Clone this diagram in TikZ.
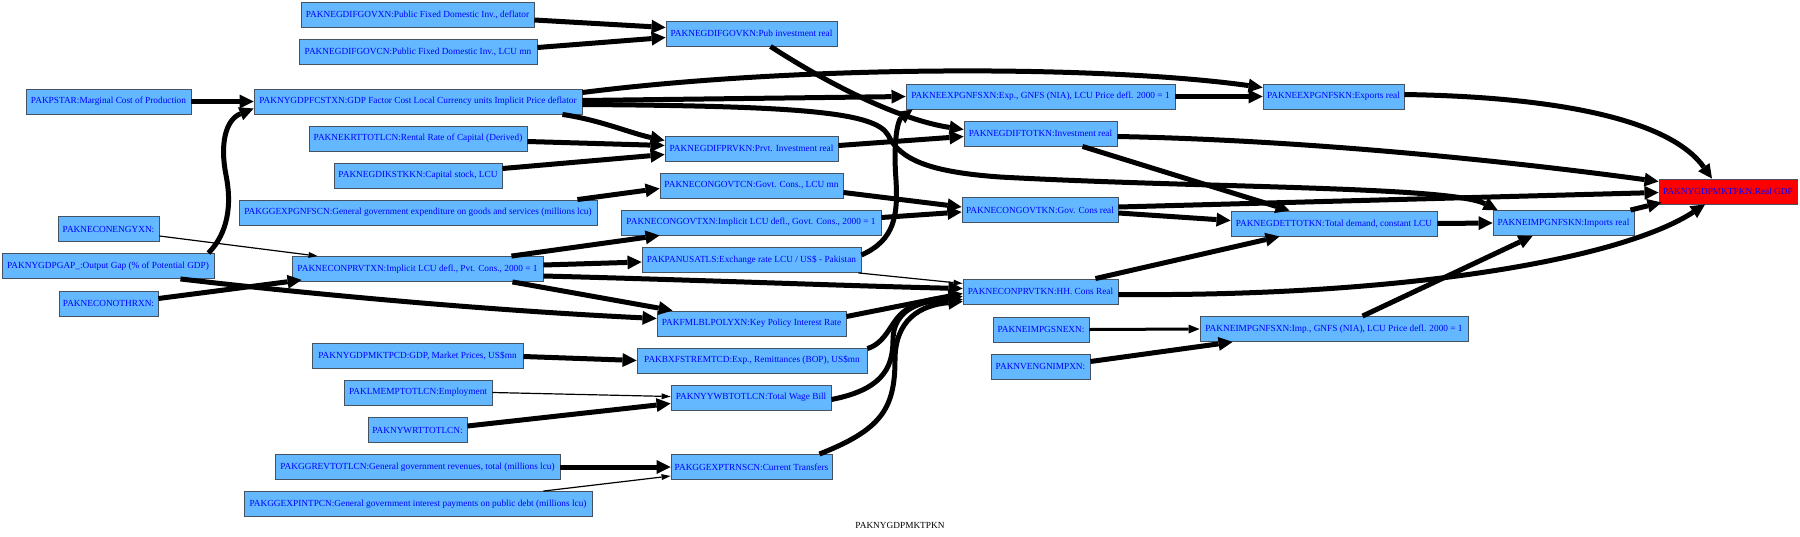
\documentclass[tikz,border=0pt]{standalone}
\usepackage{fontspec}
\setmainfont{Liberation Serif}
\usetikzlibrary{arrows.meta,calc}
\definecolor{boxfill}{RGB}{99,184,255}
\definecolor{boxline}{RGB}{70,82,96}
\definecolor{txtblue}{RGB}{0,0,255}
\begin{document}
\begin{tikzpicture}[x=1pt,y=-1pt,
  box/.style={draw=boxline,line width=0.9pt,fill=boxfill,text=txtblue,
    font=\fontsize{9.3}{11}\selectfont,minimum height=25pt,inner xsep=1pt,inner ysep=0pt},
  redbox/.style={box,fill=red},
  fat/.style={line width=5pt,-{Triangle[length=14pt,width=14pt,line width=0pt]}},
  thinedge/.style={line width=1.2pt,-{Triangle[length=9pt,width=6pt,line width=0pt]}},
  midedge/.style={line width=3pt,-{Triangle[length=11pt,width=9pt,line width=0pt]}}]
\useasboundingbox (0,0) rectangle (1800,536);
% column 1/2
\node[box,minimum width=233pt] (GOVXN) at (417.5,15) {PAKNEGDIFGOVXN:Public Fixed Domestic Inv., deflator};
\node[box,minimum width=238pt] (GOVCN) at (418,51.5) {PAKNEGDIFGOVCN:Public Fixed Domestic Inv., LCU mn};
\node[box,minimum width=165pt] (PSTAR) at (108.5,101.5) {PAKPSTAR:Marginal Cost of Production};
\node[box,minimum width=328pt] (FCSTXN) at (418,101.5) {PAKNYGDPFCSTXN:GDP Factor Cost Local Currency units Implicit Price deflator};
\node[box,minimum width=218pt] (KRT) at (418,138.5) {PAKNEKRTTOTLCN:Rental Rate of Capital (Derived)};
\node[box,minimum width=168pt] (KSTK) at (418,175.5) {PAKNEGDIKSTKKN:Capital stock, LCU};
\node[box,minimum width=358pt] (GGEXPGNFS) at (418,212.5) {PAKGGEXPGNFSCN:General government expenditure on goods and services (millions lcu)};
\node[box,minimum width=101pt] (ENGY) at (108.5,229) {PAKNECONENGYXN:};
\node[box,minimum width=212pt] (GAP) at (108,266) {PAKNYGDPGAP\_:Output Gap (\% of Potential GDP)};
\node[box,minimum width=251pt] (PRVTXN) at (417.5,269) {PAKNECONPRVTXN:Implicit LCU defl., Pvt. Cons., 2000 = 1};
\node[box,minimum width=99pt] (OTHR) at (108.5,303.5) {PAKNECONOTHRXN:};
\node[box,minimum width=211pt] (MKTPCD) at (417.5,355.5) {PAKNYGDPMKTPCD:GDP, Market Prices, US\$mn};
\node[box,minimum width=148pt] (EMP) at (418,392.5) {PAKLMEMPTOTLCN:Employment};
\node[box,minimum width=99pt] (WRT) at (417.5,430) {PAKNYWRTTOTLCN:};
\node[box,minimum width=285pt] (REV) at (417.5,467) {PAKGGREVTOTLCN:General government revenues, total (millions lcu)};
\node[box,minimum width=348pt] (INTP) at (418,504) {PAKGGEXPINTPCN:General government interest payments on public debt (millions lcu)};
% column 3
\node[box,minimum width=171pt] (GOVKN) at (751.5,33.5) {PAKNEGDIFGOVKN:Pub investment real};
\node[box,minimum width=173pt] (PRVKN) at (751.5,148.5) {PAKNEGDIFPRVKN:Prvt. Investment real};
\node[box,minimum width=183pt] (GOVTCN) at (751.5,185.5) {PAKNECONGOVTCN:Govt. Cons., LCU mn};
\node[box,minimum width=260pt] (GOVTXN) at (751,222.5) {PAKNECONGOVTXN:Implicit LCU defl., Govt. Cons., 2000 = 1};
\node[box,minimum width=219pt] (USATLS) at (751.5,260) {PAKPANUSATLS:Exchange rate LCU / US\$ - Pakistan};
\node[box,minimum width=189pt] (POLY) at (751.5,323.5) {PAKFMLBLPOLYXN:Key Policy Interest Rate};
\node[box,minimum width=230pt] (REMT) at (752,360.5) {PAKBXFSTREMTCD:Exp., Remittances (BOP), US\$mn};
\node[box,minimum width=160pt] (WB) at (751,397.5) {PAKNYYWBTOTLCN:Total Wage Bill};
\node[box,minimum width=161pt] (TRNS) at (751.5,467) {PAKGGEXPTRNSCN:Current Transfers};
% column 4
\node[box,minimum width=269pt] (EXPXN) at (1040.5,96.5) {PAKNEEXPGNFSXN:Exp., GNFS (NIA), LCU Price defl. 2000 = 1};
\node[box,minimum width=153pt] (TOTKN) at (1040.5,133.5) {PAKNEGDIFTOTKN:Investment real};
\node[box,minimum width=156pt] (GOVTKN) at (1040,210) {PAKNECONGOVTKN:Gov. Cons real};
\node[box,minimum width=155pt] (PRVTKN) at (1040.5,291.5) {PAKNECONPRVTKN:HH. Cons Real};
\node[box,minimum width=96pt] (SNEXN) at (1041,329.5) {PAKNEIMPGSNEXN:};
\node[box,minimum width=99pt] (VENG) at (1040.5,366.5) {PAKNVENGNIMPXN:};
% column 5-7
\node[box,minimum width=141pt] (EXPKN) at (1333.5,96.5) {PAKNEEXPGNFSKN:Exports real};
\node[box,minimum width=206pt] (DET) at (1334,223.5) {PAKNEGDETTOTKN:Total demand, constant LCU};
\node[box,minimum width=268pt] (IMPXN) at (1334,329) {PAKNEIMPGNFSXN:Imp., GNFS (NIA), LCU Price defl. 2000 = 1};
\node[box,minimum width=141pt] (IMPKN) at (1563.5,223) {PAKNEIMPGNFSKN:Imports real};
\node[redbox,minimum width=138pt] (GDP) at (1728,191.5) {PAKNYGDPMKTPKN:Real GDP};
\node[font=\fontsize{9.3}{11}\selectfont,inner sep=0pt] (CAP) at (900,525) {PAKNYGDPMKTPKN};
% edges
\draw[fat] ($(GOVXN.east)+(0,5)$) -- ($(GOVKN.west)+(0,-6)$);
\draw[fat] ($(GOVCN.east)+(0,-4)$) -- ($(GOVKN.west)+(0,4)$);
\draw[fat] (PSTAR.east) -- (FCSTXN.west);
\draw[fat] ($(GAP.north east)+(-6,0)$) .. controls (228,233) and (232,205) .. (226,175) .. controls (220,145) and (225,120) .. ($(FCSTXN.west)+(0,7)$);
\draw[fat] ($(FCSTXN.east)+(0,-9)$) .. controls (800,65) and (1100,65) .. ($(EXPKN.west)+(0,-9)$);
\draw[fat] ($(FCSTXN.east)+(0,-1)$) -- (EXPXN.west);
\draw[fat] ($(FCSTXN.south east)+(-20,0)$) .. controls (600,120) and (630,133) .. ($(PRVKN.west)+(0,-8)$);
\draw[fat] ($(FCSTXN.east)+(0,3)$) .. controls (800,106) and (875,112) .. (888,135) .. controls (900,160) and (930,172) .. (1000,177) .. controls (1200,188) and (1450,186) .. ($(IMPKN.north west)+(5,0)$);
\draw[fat] ($(KRT.east)+(0,3)$) -- ($(PRVKN.west)+(0,-3)$);
\draw[fat] ($(KSTK.east)+(0,-7)$) -- ($(PRVKN.west)+(0,6)$);
\draw[fat] ($(GGEXPGNFS.north east)+(-20,0)$) -- ($(GOVTCN.west)+(0,3)$);
\draw[thinedge] ($(ENGY.east)+(0,7)$) -- ($(PRVTXN.north west)+(26,0)$);
\draw[fat] ($(OTHR.east)+(0,-5)$) -- ($(PRVTXN.south west)+(10,-2)$);
\draw[fat] ($(GAP.south east)+(-34,0)$) .. controls (300,293) and (480,310) .. ($(POLY.west)+(0,-5)$);
\draw[fat] ($(PRVTXN.north east)+(-32,0)$) -- ($(GOVTXN.south west)+(39,0)$);
\draw[fat] ($(PRVTXN.east)+(0,-4)$) -- ($(USATLS.west)+(0,2)$);
\draw[fat] ($(PRVTXN.east)+(0,7)$) .. controls (700,280) and (850,286) .. ($(PRVTKN.west)+(0,-3)$);
\draw[fat] ($(PRVTXN.south east)+(-31,0)$) -- ($(POLY.north west)+(16,0)$);
\draw[fat] ($(GOVKN.south)+(19,0)$) .. controls (830,85) and (900,120) .. ($(TOTKN.west)+(0,-4)$);
\draw[fat] ($(PRVKN.east)+(0,-3)$) -- ($(TOTKN.west)+(0,3)$);
\draw[fat] ($(GOVTCN.east)+(0,7)$) -- ($(GOVTKN.west)+(0,-3)$);
\draw[fat] ($(GOVTXN.east)+(0,-5)$) -- ($(GOVTKN.west)+(0,2)$);
\draw[fat] ($(USATLS.east)+(0,-5)$) .. controls (895,240) and (898,215) .. (896,180) .. controls (893,140) and (898,120) .. ($(EXPXN.south west)+(7,0)$);
\draw[thinedge] ($(USATLS.south east)+(-3,0)$) -- ($(PRVTKN.west)+(0,-8)$);
\draw[fat] ($(POLY.east)+(0,-7)$) -- ($(PRVTKN.west)+(0,2)$);
\draw[fat] ($(REMT.north east)+(0,1)$) .. controls (885,343) and (890,325) .. (900,315) .. controls (915,300) and (940,298) .. ($(PRVTKN.west)+(0,5)$);
\draw[fat] ($(WB.east)+(0,2)$) .. controls (880,390) and (893,370) .. (893,340) .. controls (893,310) and (920,300) .. ($(PRVTKN.west)+(0,8)$);
\draw[fat] ($(TRNS.north east)+(-13,0)$) .. controls (880,430) and (895,410) .. (895,360) .. controls (895,320) and (920,305) .. ($(PRVTKN.west)+(0,10)$);
\draw[fat] ($(MKTPCD.east)+(0,1)$) -- (REMT.west);
\draw[thinedge] (EMP.east) -- ($(WB.west)+(0,-1)$);
\draw[fat] ($(WRT.east)+(0,-4)$) -- ($(WB.west)+(0,6)$);
\draw[fat] (REV.east) -- (TRNS.west);
\draw[thinedge] ($(INTP.north east)+(-49,0)$) -- ($(TRNS.west)+(0,9)$);
\draw[fat] (EXPXN.east) -- (EXPKN.west);
\draw[fat] ($(EXPKN.east)+(0,-2)$) .. controls (1560,97) and (1670,120) .. ($(GDP.north)+(-16,0)$);
\draw[fat] ($(TOTKN.east)+(0,3)$) .. controls (1300,140) and (1500,160) .. ($(GDP.west)+(0,-10)$);
\draw[fat] ($(TOTKN.south)+(42,0)$) -- ($(DET.north west)+(59,0)$);
\draw[fat] ($(GOVTKN.east)+(0,-3)$) -- ($(GDP.west)+(0,1)$);
\draw[fat] ($(GOVTKN.east)+(0,3)$) -- ($(DET.west)+(0,-3)$);
\draw[fat] ($(PRVTKN.north east)+(-23,0)$) -- ($(DET.south west)+(49,0)$);
\draw[fat] ($(PRVTKN.east)+(0,3)$) .. controls (1400,297) and (1620,260) .. ($(GDP.south)+(-23,0)$);
\draw[fat] (DET.east) -- (IMPKN.west);
\draw[fat] ($(IMPKN.north east)+(-4,0)$) -- ($(GDP.south west)+(3,-2)$);
\draw[midedge] (SNEXN.east) -- (IMPXN.west);
\draw[fat] ($(VENG.east)+(0,-5)$) -- ($(IMPXN.south west)+(33,0)$);
\draw[fat] ($(IMPXN.north west)+(163,0)$) -- ($(IMPKN.south west)+(40,0)$);
\end{tikzpicture}
\end{document}
